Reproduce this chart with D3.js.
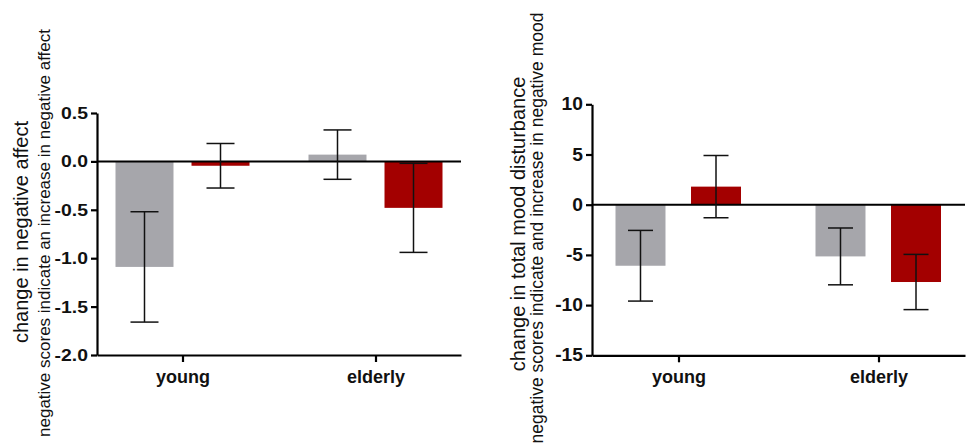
<!DOCTYPE html>
<html>
<head>
<meta charset="utf-8">
<script src="https://cdn.jsdelivr.net/npm/d3@7"></script>
<style>
  body { margin: 0; background: #fff; }
  svg { display: block; }
  text { font-family: Arial, "Liberation Sans", sans-serif; }
</style>
</head>
<body>
<svg id="chart" width="966" height="444"></svg>
<script>
// ---- data ----
const categories = ["young", "elderly"];
const series = ["control", "treatment"];
const colors = ["#a6a6ab", "#a30000"];

const affectMean = [[-1.09, -0.045], [0.07, -0.48]];
const affectErr  = [[0.57, 0.23], [0.255, 0.46]];
const affectTicks = [0.5, 0.0, -0.5, -1.0, -1.5, -2.0];

const moodMean = [[-6.08, 1.8], [-5.15, -7.7]];
const moodErr  = [[3.52, 3.1], [2.83, 2.75]];
const moodTicks = [10, 5, 0, -5, -10, -15];

const panels = [
  {
    mean: affectMean, err: affectErr, ticks: affectTicks,
    domain: [-2, 0.5], yRange: [355, 113], xRange: [97, 461], pad: 0.443,
    inner: [-67, 67], innerPad: 0.237, cap: 28,
    fmt: d3.format(".1f"),
    title: "change in negative affect",
    subtitle: "negative scores indicate an increase in negative affect",
    titleX: 28, titleY: 232, subX: 50, subY: 233, subSize: 17, tickSize: 17, tickScale: 1.14
  },
  {
    mean: moodMean, err: moodErr, ticks: moodTicks,
    domain: [-15, 10], yRange: [355.3, 104.3], xRange: [592, 965], pad: 0.4325,
    inner: [-63, 62.5], innerPad: 0.338, cap: 25,
    fmt: d3.format("d"),
    title: "change in total mood disturbance",
    subtitle: "negative scores indicate and increase in negative mood",
    titleX: 525, titleY: 224, subX: 543, subY: 228, subSize: 17.5, tickSize: 17.5, tickScale: 1.1
  }
];

const svg = d3.select("#chart");
const minus = s => s.replace("−", "-");

panels.forEach(p => {
  const g = svg.append("g");
  const y = d3.scaleLinear().domain(p.domain).range(p.yRange);
  const x = d3.scalePoint().domain(categories).range(p.xRange).padding(p.pad);
  const xi = d3.scaleBand().domain(series).range(p.inner).paddingInner(p.innerPad).paddingOuter(0);

  // bars
  categories.forEach((c, ci) => {
    series.forEach((s, si) => {
      const v = p.mean[ci][si];
      g.append("rect")
        .attr("x", x(c) + xi(s))
        .attr("width", xi.bandwidth())
        .attr("y", Math.min(y(v), y(0)))
        .attr("height", Math.abs(y(v) - y(0)))
        .attr("fill", colors[si]);
    });
  });

  // zero line
  g.append("line")
    .attr("x1", p.xRange[0]).attr("x2", p.xRange[1])
    .attr("y1", y(0)).attr("y2", y(0))
    .attr("stroke", "#000").attr("stroke-width", 2);

  // error bars
  categories.forEach((c, ci) => {
    series.forEach((s, si) => {
      const v = p.mean[ci][si], e = p.err[ci][si];
      const cx = x(c) + xi(s) + xi.bandwidth() / 2;
      const eg = g.append("g").attr("stroke", "#111").attr("stroke-width", 1.5);
      eg.append("line").attr("x1", cx).attr("x2", cx).attr("y1", y(v + e)).attr("y2", y(v - e));
      [v + e, v - e].forEach(t => {
        eg.append("line").attr("x1", cx - p.cap / 2).attr("x2", cx + p.cap / 2)
          .attr("y1", y(t)).attr("y2", y(t));
      });
    });
  });

  // y axis
  const ya = g.append("g").attr("transform", `translate(${p.xRange[0]},0)`)
    .call(d3.axisLeft(y).tickValues(p.ticks).tickFormat(d => minus(p.fmt(d))).tickSize(6).tickSizeOuter(0).tickPadding(3));
  // x axis
  const xa = g.append("g").attr("transform", `translate(0,${p.yRange[0]})`)
    .call(d3.axisBottom(x).tickSize(7).tickSizeOuter(0).tickPadding(8));

  [ya, xa].forEach(a => {
    a.select(".domain").attr("stroke", "#000").attr("stroke-width", 2.2);
    a.selectAll(".tick line").attr("stroke", "#000").attr("stroke-width", 2.2);
    a.selectAll(".tick text").attr("fill", "#111").style("font-weight", "bold")
      .style("font-family", "Arial, 'Liberation Sans', sans-serif");
  });
  ya.selectAll(".tick text")
    .style("font-size", p.tickSize + "px")
    .attr("x", -9 / p.tickScale)
    .attr("transform", `scale(${p.tickScale},1)`);
  xa.selectAll(".tick text").style("font-size", "18px");

  // axis titles
  g.append("text")
    .attr("transform", `translate(${p.titleX},${p.titleY}) rotate(-90)`)
    .attr("text-anchor", "middle")
    .style("font-size", "20px").attr("fill", "#111")
    .text(p.title);
  g.append("text")
    .attr("transform", `translate(${p.subX},${p.subY}) rotate(-90)`)
    .attr("text-anchor", "middle")
    .style("font-size", p.subSize + "px").attr("fill", "#111")
    .text(p.subtitle);
});
</script>
</body>
</html>
